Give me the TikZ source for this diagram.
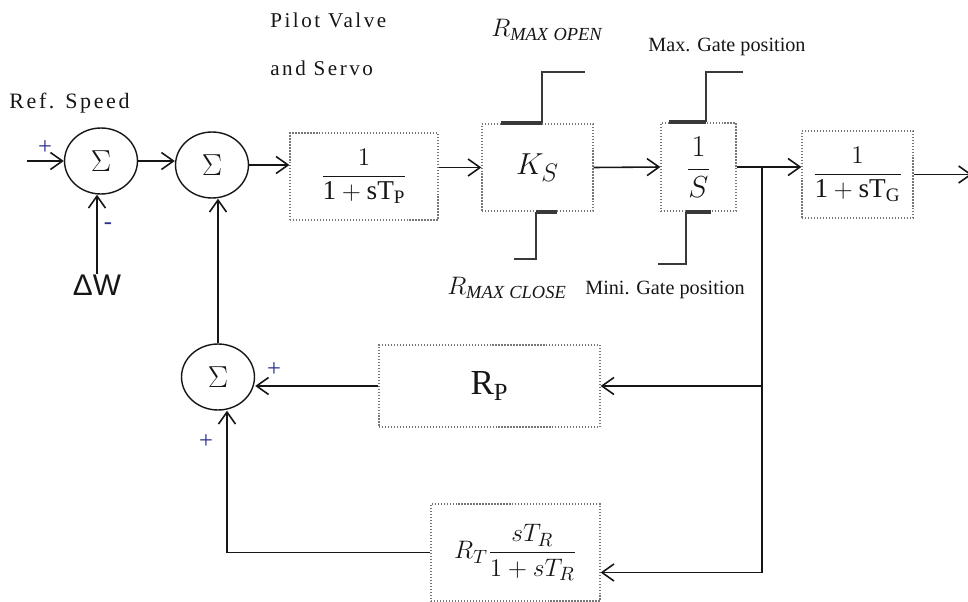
\documentclass[tikz,border=0pt]{standalone}
\usepackage{fontspec}
\setmainfont{Liberation Serif}
\setsansfont{Liberation Sans}
\newfontfamily\wideSerif[LetterSpace=12]{Liberation Serif}
\usetikzlibrary{positioning,arrows.meta,calc,shapes.geometric}
\definecolor{ink}{HTML}{161616}
\definecolor{boxEdge}{HTML}{777777}
\definecolor{signInk}{HTML}{2E2F8F}

\begin{document}
\begin{tikzpicture}[
  x=0.02cm, y=-0.02cm,
  font=\rmfamily,
  sumJunction/.style={
    ellipse, draw=ink, line width=0.8pt,
    minimum width=1.46cm, minimum height=1.32cm,
    inner sep=0pt, text=ink,
    font=\fontsize{18}{20}\selectfont
  },
  tfBlock/.style={
    rectangle, draw=boxEdge, densely dotted,
    line width=0.7pt, inner sep=0pt,
    text=ink,
    font=\fontsize{15.5}{18}\selectfont
  },
  signalArrow/.style={
    -{Straight Barb[length=2.4mm,width=3.4mm]},
    line width=0.9pt,
    draw=ink
  },
  limitLine/.style={
    line width=1.1pt,
    draw=ink!85
  },
  clampBar/.style={
    line width=2.2pt,
    draw=ink!85
  },
  signMark/.style={
    text=signInk, inner sep=0pt,
    font=\fontsize{14}{16}\selectfont
  },
  noteText/.style={
    text=ink, inner sep=0pt
  }
]

% Text macros for inside blocks
\newcommand{\tfFrac}[2]{$\displaystyle\frac{#1}{#2}$}

% Fix the page to the reference size, 968 x 602 px
\useasboundingbox (0,0) rectangle (968,602);

% Summing junctions
\node[sumJunction] (sumA) at (101,161) {$\Sigma$};
\node[sumJunction] (sumB) at (212,165) {$\Sigma$};
\node[sumJunction] (sumC) at (218,377) {$\Sigma$};

% Forward path blocks
\node[tfBlock, minimum width=2.96cm, minimum height=1.74cm] (pilot) at (364,176.5)
  {\tfFrac{1}{\mathrm{1+sT_P}}};
\node[tfBlock, minimum width=2.22cm, minimum height=1.74cm,
  font=\fontsize{19}{21}\selectfont] (servo) at (537.5,167.5) {$K_S$};
\node[tfBlock, minimum width=1.5cm, minimum height=1.76cm,
  font=\fontsize{18}{20}\selectfont] (gate) at (698.5,167)
  {\tfFrac{1}{S}};
\node[tfBlock, minimum width=2.22cm, minimum height=1.74cm] (turbine) at (857.5,174.5)
  {\tfFrac{1}{\mathrm{1+sT_G}}};

% Feedback blocks
\node[tfBlock, minimum width=4.42cm, minimum height=1.64cm,
  font=\fontsize{20}{22}\selectfont] (droop) at (489.5,386) {$\mathrm{R_P}$};
\node[tfBlock, minimum width=3.38cm, minimum height=1.94cm] (trans) at (515.5,552.5)
  {$R_T\displaystyle\frac{sT_R}{1+sT_R}$};

% Texts
\node[noteText, anchor=west, font=\wideSerif\fontsize{12.5}{15}\selectfont] (refLbl) at (9,103) {Ref. Speed};
\node[noteText, anchor=west, font=\wideSerif\fontsize{12}{15}\selectfont] (pilotLbl) at (270,20) {Pilot Valve};
\node[noteText, anchor=west, font=\wideSerif\fontsize{12}{15}\selectfont] (servoLbl) at (270,68) {and Servo};
\node[noteText, font=\sffamily\fontsize{17}{19}\selectfont] (dW) at (97,285) {ΔW};
\node[noteText, font=\fontsize{15}{17}\selectfont] (openLbl) at (547,30) {$R_{\mathit{MAX\;OPEN}}$};
\node[noteText, font=\fontsize{15}{17}\selectfont] (closeLbl) at (507,288) {$R_{\mathit{MAX\;CLOSE}}$};
\node[noteText, font=\fontsize{11.5}{13}\selectfont] (maxLbl) at (727,47) {Max. Gate position};
\node[noteText, font=\fontsize{11.5}{13}\selectfont] (minLbl) at (665,290) {Mini. Gate position};

% Signs at the junctions
\node[signMark] (plusA) at (45,148) {+};
\node[signMark] (minusA) at (108,226) {-};
\node[signMark] (plusC) at (274,370) {+};
\node[signMark] (plusD) at (206,442) {+};

% Rate limits on K_S
\draw[clampBar] ($(servo.north west)+(20,0)$) -- ($(servo.north west)+(61,0)$);
\draw[limitLine] ($(servo.north west)+(61,0)$) -- ++(0,-51) -- ++(43,0);
\draw[clampBar] ($(servo.south west)+(55,0)$) -- ($(servo.south west)+(76,0)$);
\draw[limitLine] ($(servo.south west)+(55,0)$) -- ++(0,47) -- ++(-22,0);

% Gate position limits on 1/S
\draw[clampBar] ($(gate.north west)+(9,0)$) -- ($(gate.north west)+(46,0)$);
\draw[limitLine] ($(gate.north west)+(46,0)$) -- ++(0,-50) -- ++(37,0);
\draw[clampBar] ($(gate.south west)+(26,0)$) -- ($(gate.south west)+(51,0)$);
\draw[limitLine] ($(gate.south west)+(26,0)$) -- ++(0,52) -- ++(-28,0);

% Forward path
\coordinate (in) at (27,161);
\coordinate (out) at (972,174.5);
\coordinate (tap) at (762,167);
\draw[signalArrow] (in) -- (sumA.west);
\draw[signalArrow] (dW.north) -- (dW.north |- sumA.south);
\draw[signalArrow] (sumA.east) -- (sumA.east -| sumB.west);
\draw[signalArrow] (sumB.east) -- (sumB.east -| pilot.west);
\draw[signalArrow] (pilot.east |- servo.west) -- (servo.west);
\draw[signalArrow] (servo.east) -- (gate.west);
\draw[signalArrow] (gate.east) -- (gate.east -| turbine.west);
\draw[signalArrow] (turbine.east) -- (out);

% Feedback loops
\coordinate (transIn) at ([yshift=-0.4cm]trans.east);
\draw[signalArrow] (tap) |- (transIn);
\draw[signalArrow] (tap |- droop.east) -- (droop.east);
\draw[signalArrow] (droop.west) -- (droop.west -| sumC.east);
\draw[signalArrow] (trans.west) -| ([xshift=0.18cm]sumC.south);
\draw[signalArrow] (sumC.north) -- (sumC.north |- sumB.south);

\end{tikzpicture}
\end{document}
